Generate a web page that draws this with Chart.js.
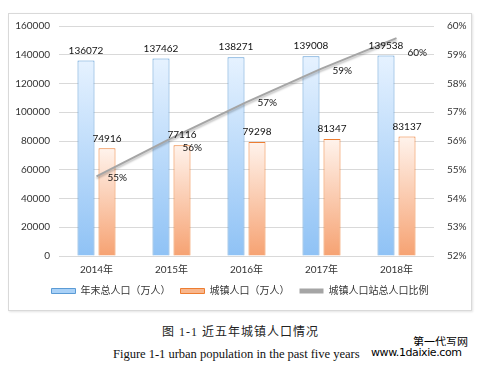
<!DOCTYPE html>
<html>
<head>
<meta charset="utf-8">
<script src="https://cdn.jsdelivr.net/npm/chart.js@4"></script>
<style>
  body { margin: 0; background: #fff; width: 481px; height: 369px; position: relative; overflow: hidden; }
  #box { position: absolute; left: 8px; top: 13px; width: 462px; height: 296px; border: 1px solid #d9d9d9; box-shadow: 1px 1px 2px #e4e4e4; }
  #cap1 { position: absolute; left: 0; width: 481px; top: 322px; text-align: center; font: 12px "Liberation Serif", "Noto Sans CJK SC", serif; letter-spacing: 1px; color: #222; }
  #cap2 { position: absolute; left: 113px; top: 347px; font: 12.6px "Liberation Serif", serif; letter-spacing: -0.05px; color: #111; }
  #wm1 { position: absolute; left: 413px; top: 333px; font: 11px "Noto Sans CJK SC", sans-serif; color: #000; }
  #wm2 { position: absolute; left: 371px; top: 346px; font: 11px "DejaVu Sans", sans-serif; color: #000; letter-spacing: -0.4px; background: #fff; }
</style>
</head>
<body>
<div id="box"><canvas id="chart"></canvas></div>
<div id="cap1">图 1-1 近五年城镇人口情况</div>
<div id="cap2">Figure 1-1 urban population in the past five years</div>
<div id="wm1">第一代写网</div>
<div id="wm2">www.1daixie.com</div>
<script>
const years = ['2014年', '2015年', '2016年', '2017年', '2018年']
const totalPop = [136072, 137462, 138271, 139008, 139538]
const urbanPop = [74916, 77116, 79298, 81347, 83137]
const urbanRate = [54.77, 56.10, 57.35, 58.52, 59.58]

const FONT = "Lato, 'Noto Sans CJK SC', sans-serif"

function barFill(light, dark) {
    return function (context) {
        const chart = context.chart
        const area = chart.chartArea
        if (!area || context.parsed == null) return dark
        const yScale = chart.scales.y
        const top = yScale.getPixelForValue(context.parsed.y)
        const g = chart.ctx.createLinearGradient(0, top, 0, area.bottom)
        g.addColorStop(0, light)
        g.addColorStop(1, dark)
        return g
    }
}

// draws the numbers above bars and the % next to line points
const valueLabels = {
    id: 'valueLabels',
    beforeDatasetDraw(chart, args) {
        if (args.index === 2) {
            chart.ctx.save()
            chart.ctx.shadowColor = 'rgba(0,0,0,0.25)'
            chart.ctx.shadowOffsetY = 2
            chart.ctx.shadowBlur = 2
        }
    },
    afterDatasetDraw(chart, args) {
        if (args.index === 2) chart.ctx.restore()
    },
    afterDatasetsDraw(chart) {
        const ctx = chart.ctx
        ctx.save()
        ctx.font = '10px ' + FONT
        ctx.fillStyle = '#111'
        ctx.textAlign = 'center'
        ctx.textBaseline = 'bottom'
        ;[0, 1].forEach(function (i) {
            const meta = chart.getDatasetMeta(i)
            meta.data.forEach(function (bar, j) {
                ctx.fillText(chart.data.datasets[i].data[j], bar.x, bar.y - 5)
            })
        })
        const pctNudge = [1, 10, 1, 2, 15]
        ctx.textAlign = 'left'
        ctx.textBaseline = 'middle'
        chart.getDatasetMeta(2).data.forEach(function (pt, j) {
            ctx.fillText(Math.round(urbanRate[j]) + '%', pt.x + 11, pt.y + pctNudge[j])
        })
        ctx.restore()
    }
}

const tickFont = { size: 10, family: FONT }

function sideFit(w) {
    return function (scale) {
        scale.width = w
        scale.paddingTop = 0
        scale.paddingBottom = 0
    }
}

const ctx = document.getElementById('chart')
const myChart = new Chart(ctx, {
    type: 'bar',
    data: {
        labels: years,
        datasets: [{
            label: '年末总人口（万人）',
            data: totalPop,
            backgroundColor: barFill('#e6f2ff', '#8fc2f5'),
            borderColor: '#5b9bd5',
            borderWidth: 1,
            order: 1,
            yAxisID: 'y'
        }, {
            label: '城镇人口（万人）',
            data: urbanPop,
            backgroundColor: barFill('#fff3ec', '#f6a272'),
            borderColor: '#ed7d31',
            borderWidth: 1,
            order: 1,
            yAxisID: 'y'
        }, {
            type: 'line',
            label: '城镇人口站总人口比例',
            data: urbanRate,
            borderColor: '#a5a5a5',
            borderWidth: 2,
            pointRadius: 0,
            tension: 0,
            order: 0,
            yAxisID: 'y1'
        }]
    },
    options: {
        responsive: true,
        maintainAspectRatio: false,
        animation: false,
        categoryPercentage: 0.56,
        barPercentage: 0.81,
        layout: { padding: { top: 12, bottom: 4 } },
        plugins: {
            tooltip: { enabled: false },
            legend: {
                position: 'bottom',
                labels: {
                    boxWidth: 24,
                    boxHeight: 5,
                    padding: 10,
                    color: '#333',
                    font: tickFont,
                    generateLabels: function (chart) {
                        const fills = ['#a9d1f7', '#f8b68c', '#a5a5a5']
                        return chart.data.datasets.map(function (ds, i) {
                            return {
                                text: ds.label,
                                fillStyle: fills[i],
                                strokeStyle: ds.borderColor,
                                lineWidth: i < 2 ? 1 : 0,
                                fontColor: '#333',
                                datasetIndex: i
                            }
                        })
                    }
                }
            }
        },
        scales: {
            x: {
                grid: { display: false },
                border: { display: false },
                ticks: { color: '#333', font: tickFont, padding: 0 }
            },
            y: {
                min: 0,
                max: 160000,
                ticks: {
                    stepSize: 20000,
                    color: '#333',
                    font: tickFont,
                    padding: 9,
                    callback: function (v) { return String(v) }
                },
                grid: { color: '#d9d9d9', drawTicks: false },
                border: { display: false },
                afterFit: sideFit(50)
            },
            y1: {
                position: 'right',
                min: 52,
                max: 60,
                ticks: {
                    stepSize: 1,
                    color: '#333',
                    font: tickFont,
                    padding: 13,
                    callback: function (v) { return v + '%' }
                },
                grid: { display: false, drawTicks: false },
                border: { display: false },
                afterFit: sideFit(37)
            }
        }
    },
    plugins: [valueLabels]
});
</script>
</body>
</html>
